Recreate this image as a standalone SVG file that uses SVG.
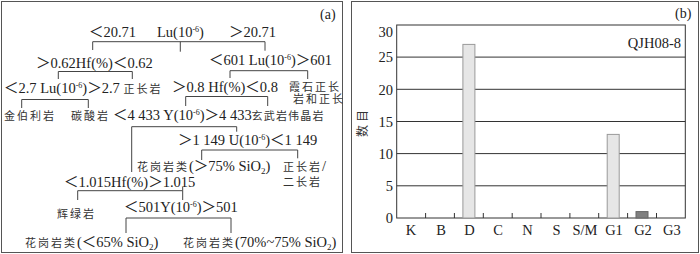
<svg xmlns="http://www.w3.org/2000/svg" width="700" height="254" viewBox="0 0 700 254">
<style>
text{font-family:"Liberation Serif","Noto Sans CJK SC",serif;font-size:14.5px;fill:#222}
.c{font-family:"Noto Sans CJK SC",sans-serif;font-size:11px;letter-spacing:2px;fill:#333}
.sup{font-size:8px}
.sub{font-size:9px}
.ln{fill:none;stroke:#444;stroke-width:1}
.frame{fill:#fff;stroke:#555;stroke-width:1}
.grid{stroke:#333;stroke-width:1}
.tick{stroke:#333;stroke-width:1}
.lbar{fill:#e6e6e6;stroke:#999;stroke-width:1}
.dbar{fill:#808080;stroke:#666;stroke-width:1}
</style>
<rect class="frame" x="1.5" y="1.5" width="341" height="251"/>
<rect class="frame" x="351.5" y="1.5" width="347" height="251"/>
<text x="320" y="18.5" style="font-size:14px">(a)</text>
<g id="connectors">
<path class="ln" d="M92.7,50 V41.7 H265 V50.7 M180.3,41.7 V51.7"/>
<path class="ln" d="M58.3,79 V71.5 H132.3 V79"/>
<path class="ln" d="M230,78 V70.7 H307.7 V79"/>
<path class="ln" d="M21.7,108 V99.5 H88.3 V108"/>
<path class="ln" d="M185.7,106 V96.5 H267.7 V106"/>
<path class="ln" d="M131.7,172 V126.7 H236.7 V131.7"/>
<path class="ln" d="M201.7,160 V150 H297.7 V158.3"/>
<path class="ln" d="M77.7,200 V190.7 H182.7 V200 M182.7,187 V190.7"/>
<path class="ln" d="M126,233 V218 H231 V233"/>
</g>
<g id="n-lu1"><text x="89" y="37">＜20.71</text><text x="157" y="37">Lu(10<tspan class="sup" dy="-5">-6</tspan><tspan dy="5">)</tspan></text><text x="229" y="37">＞20.71</text></g>
<g id="n-hf1"><text x="36" y="68">＞0.62Hf(%)＜0.62</text></g>
<g id="n-lu2"><text x="209" y="65">＜601 Lu(10<tspan class="sup" dy="-5">-6</tspan><tspan dy="5">)＞601</tspan></text></g>
<g id="n-lu3"><text x="4" y="92.5">＜2.7 Lu(10<tspan class="sup" dy="-5">-6</tspan><tspan dy="5">)＞2.7 </tspan><tspan class="c">正长岩</tspan></text></g>
<g id="n-hf2"><text x="172" y="92">＞0.8 Hf(%)＜0.8</text></g>
<g id="n-nepheline"><text x="289" y="91" class="c">霞石正长</text><text x="293" y="102.5" class="c">岩和正长</text></g>
<g id="n-kimberlite"><text x="4" y="119.5" class="c">金伯利岩</text></g>
<g id="n-carbonatite"><text x="71" y="119.5" class="c">碳酸岩</text></g>
<g id="n-y1"><text x="113" y="120">＜4 433 Y(10<tspan class="sup" dy="-5">-6</tspan><tspan dy="5">)＞4 433</tspan></text></g>
<g id="n-basalt"><text x="251.5" y="119.5" class="c" style="letter-spacing:1.2px">玄武岩伟晶岩</text></g>
<g id="n-u"><text x="178" y="145">＞1 149 U(10<tspan class="sup" dy="-5">-6</tspan><tspan dy="5">)＜1 149</tspan></text></g>
<g id="n-gr75"><text x="137" y="170.5"><tspan class="c">花岗岩类</tspan>(＞75% SiO<tspan class="sub" dy="3">2</tspan><tspan dy="-3">)</tspan></text></g>
<g id="n-syenite"><text x="283" y="171"><tspan class="c">正长岩</tspan>/</text><text x="283" y="186" class="c">二长岩</text></g>
<g id="n-hf3"><text x="64" y="186.7">＜1.015Hf(%)＞1.015</text></g>
<g id="n-dolerite"><text x="57" y="218" class="c">辉绿岩</text></g>
<g id="n-y2"><text x="124" y="211.7">＜501Y(10<tspan class="sup" dy="-5">-6</tspan><tspan dy="5">)＞501</tspan></text></g>
<g id="n-gr65"><text x="25" y="246.5"><tspan class="c">花岗岩类</tspan>(＜65% SiO<tspan class="sub" dy="3">2</tspan><tspan dy="-3">)</tspan></text></g>
<g id="n-gr70"><text x="183" y="246.5"><tspan class="c">花岗岩类</tspan>(70%~75% SiO<tspan class="sub" dy="3">2</tspan><tspan dy="-3">)</tspan></text></g>
<g id="chart">
<text x="675" y="17.5" style="font-size:14px">(b)</text>
<g id="grid">
<line class="grid" x1="396.7" y1="185.8" x2="685.3" y2="185.8"/>
<line class="grid" x1="396.7" y1="153.6" x2="685.3" y2="153.6"/>
<line class="grid" x1="396.7" y1="121.5" x2="685.3" y2="121.5"/>
<line class="grid" x1="396.7" y1="89.3" x2="685.3" y2="89.3"/>
<line class="grid" x1="396.7" y1="57.1" x2="685.3" y2="57.1"/>
<rect x="396.7" y="25" width="288.6" height="193" fill="none" stroke="#333" stroke-width="1"/>
</g>
<g id="bars">
<rect class="lbar" x="462.9" y="44.4" width="12" height="173.6"/>
<rect class="lbar" x="607.2" y="134.4" width="12" height="83.6"/>
<rect class="dbar" x="636" y="211.6" width="12" height="6.4"/>
</g>
<g id="ticks">
<path class="tick" d="M425.6,218 V213 M454.4,218 V213 M483.3,218 V213 M512.2,218 V213 M541,218 V213 M569.9,218 V213 M598.7,218 V213 M627.6,218 V213 M656.5,218 V213"/>
</g>
<g id="ylabels" text-anchor="end" style="font-size:15px">
<text x="393" y="37">30</text>
<text x="393" y="62.3">25</text>
<text x="393" y="94.5">20</text>
<text x="393" y="126.7">15</text>
<text x="393" y="158.8">10</text>
<text x="393" y="191">5</text>
<text x="393" y="222.5">0</text>
</g>
<g id="xlabels" text-anchor="middle" style="font-size:15px">
<text x="411.1" y="234.5">K</text>
<text x="441" y="234.5">B</text>
<text x="469.4" y="234.5">D</text>
<text x="498" y="234.5">C</text>
<text x="527.5" y="234.5">N</text>
<text x="556.5" y="234.5">S</text>
<text x="585" y="234.5">S/M</text>
<text x="614" y="234.5">G1</text>
<text x="643" y="234.5">G2</text>
<text x="671.8" y="234.5">G3</text>
</g>
<text x="681" y="47.7" text-anchor="end" style="font-size:14.5px">QJH08-8</text>
<text transform="translate(367,122) rotate(-90)" text-anchor="middle" class="c" style="font-size:12px;letter-spacing:3px">数目</text>
</g>
</svg>
